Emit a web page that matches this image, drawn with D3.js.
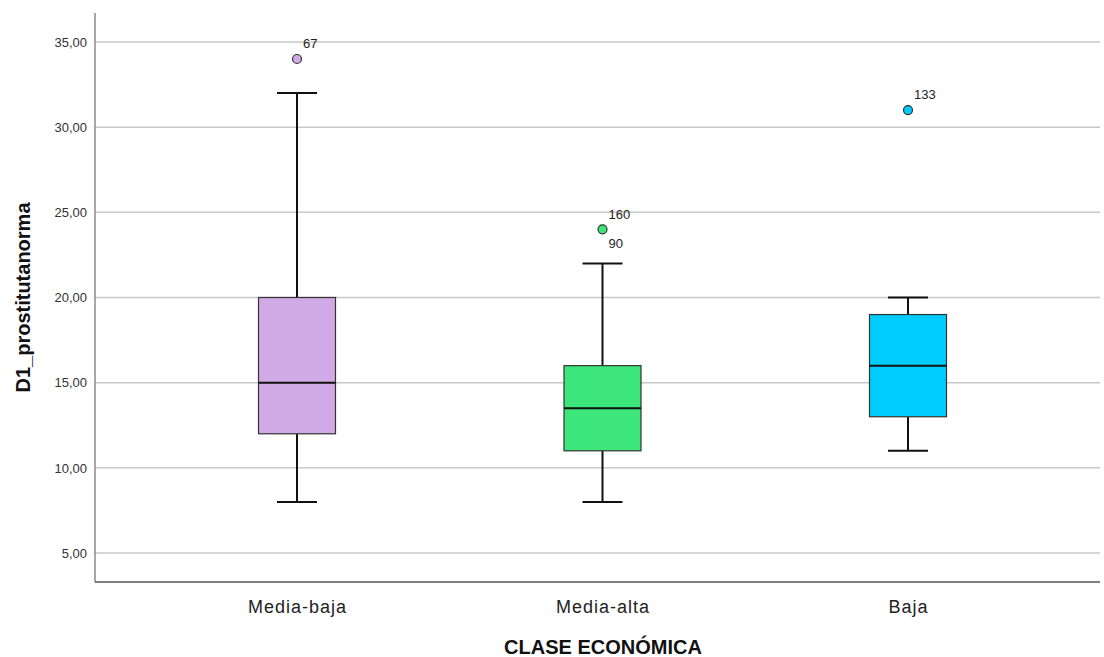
<!DOCTYPE html>
<html>
<head>
<meta charset="utf-8">
<script src="https://cdn.jsdelivr.net/npm/d3@7"></script>
<style>
  body { margin: 0; background: #fff; }
  text { font-family: "Liberation Sans", Arial, sans-serif; }
</style>
</head>
<body>
<svg class="chart"></svg>
<script>
const width = 1104,
  height = 657;

// one box per category
const categories = ["Media-baja", "Media-alta", "Baja"];
const mins = [8, 8, 11];
const q1s = [12, 11, 13];
const medians = [15, 13.5, 16];
const q3s = [20, 16, 19];
const maxs = [32, 22, 20];
const outliers = [
  { cat: "Media-baja", value: 34, labels: ["67"] },
  { cat: "Media-alta", value: 24, labels: ["160", "90"] },
  { cat: "Baja", value: 31, labels: ["133"] }
];
const yTicks = [5, 10, 15, 20, 25, 30, 35];
const colors = ["#d0aae4", "#3de67a", "#00ccff"];

const plotL = 95, plotR = 1100, plotT = 13, plotB = 582;

let chart = d3.select(".chart")
  .attr("width", width)
  .attr("height", height);

let y = d3.scaleLinear()
  .domain([3.3, 36.7])
  .range([plotB, plotT]);

let x = d3.scalePoint()
  .domain(categories)
  .range([297, 908]);

let color = d3.scaleOrdinal()
  .domain(categories)
  .range(colors);

const boxW = 77, capW = 40;
const fmt = v => d3.format(".2f")(v).replace(".", ",");

// grid
chart.append("g").selectAll("line")
  .data(yTicks)
  .enter().append("line")
  .attr("x1", plotL).attr("x2", plotR)
  .attr("y1", d => y(d)).attr("y2", d => y(d))
  .attr("stroke", "#c8c8c8")
  .attr("stroke-width", 1.5);

// y axis
let yAxis = d3.axisLeft(y)
  .tickValues(yTicks)
  .tickSize(0)
  .tickPadding(8)
  .tickFormat(fmt);
let gy = chart.append("g")
  .attr("transform", `translate(${plotL},0)`)
  .call(yAxis);
gy.select(".domain").remove();
gy.selectAll("text")
  .style("font-size", "13px")
  .attr("fill", "#333");

let xAxis = d3.axisBottom(x).tickSize(0).tickPadding(18);
let gx = chart.append("g")
  .attr("transform", `translate(0,${plotB})`)
  .call(xAxis);
gx.select(".domain").remove();
gx.selectAll("text")
  .style("font-size", "18px")
  .style("letter-spacing", "1px")
  .attr("fill", "#222");

// axis lines
chart.append("line")
  .attr("x1", plotL).attr("x2", plotL)
  .attr("y1", plotT).attr("y2", plotB)
  .attr("stroke", "#8a8a8a").attr("stroke-width", 1.5);
chart.append("line")
  .attr("x1", plotL).attr("x2", plotR)
  .attr("y1", plotB).attr("y2", plotB)
  .attr("stroke", "#555").attr("stroke-width", 1.5);

// boxes
let boxes = chart.append("g").selectAll("g")
  .data(categories)
  .enter().append("g");

boxes.append("line")
  .attr("x1", d => x(d)).attr("x2", d => x(d))
  .attr("y1", (d, i) => y(maxs[i])).attr("y2", (d, i) => y(q3s[i]))
  .attr("stroke", "#111").attr("stroke-width", 2);
boxes.append("line")
  .attr("x1", d => x(d)).attr("x2", d => x(d))
  .attr("y1", (d, i) => y(q1s[i])).attr("y2", (d, i) => y(mins[i]))
  .attr("stroke", "#111").attr("stroke-width", 2);
boxes.append("line")
  .attr("x1", d => x(d) - capW / 2).attr("x2", d => x(d) + capW / 2)
  .attr("y1", (d, i) => y(maxs[i])).attr("y2", (d, i) => y(maxs[i]))
  .attr("stroke", "#111").attr("stroke-width", 2);
boxes.append("line")
  .attr("x1", d => x(d) - capW / 2).attr("x2", d => x(d) + capW / 2)
  .attr("y1", (d, i) => y(mins[i])).attr("y2", (d, i) => y(mins[i]))
  .attr("stroke", "#111").attr("stroke-width", 2);
boxes.append("rect")
  .attr("x", d => x(d) - boxW / 2)
  .attr("width", boxW)
  .attr("y", (d, i) => y(q3s[i]))
  .attr("height", (d, i) => y(q1s[i]) - y(q3s[i]))
  .attr("fill", d => color(d))
  .attr("stroke", "#333").attr("stroke-width", 1.2);
boxes.append("line")
  .attr("x1", d => x(d) - boxW / 2).attr("x2", d => x(d) + boxW / 2)
  .attr("y1", (d, i) => y(medians[i])).attr("y2", (d, i) => y(medians[i]))
  .attr("stroke", "#111").attr("stroke-width", 2);

// outliers
let outs = chart.append("g").selectAll("g")
  .data(outliers)
  .enter().append("g");
outs.append("circle")
  .attr("cx", d => x(d.cat))
  .attr("cy", d => y(d.value))
  .attr("r", 4.5)
  .attr("fill", d => color(d.cat))
  .attr("stroke", "#333").attr("stroke-width", 1.2);
outs.each(function(d) {
  let g = d3.select(this);
  let offsets = d.labels.length > 1 ? [-10, 19] : [-11];
  d.labels.forEach((lab, k) => {
    g.append("text")
      .attr("x", x(d.cat) + 6)
      .attr("y", y(d.value) + offsets[k])
      .style("font-size", "13px")
      .attr("fill", "#222")
      .text(lab);
  });
});

// titles
chart.append("text")
  .attr("transform", `translate(30,${(plotT + plotB) / 2}) rotate(-90)`)
  .attr("text-anchor", "middle")
  .style("font-size", "20px")
  .style("font-weight", "bold")
  .attr("fill", "#111")
  .text("D1_prostitutanorma");
chart.append("text")
  .attr("x", 603)
  .attr("y", 654)
  .attr("text-anchor", "middle")
  .style("font-size", "20px")
  .style("font-weight", "bold")
  .attr("fill", "#111")
  .text("CLASE ECONÓMICA");
</script>
</body>
</html>
